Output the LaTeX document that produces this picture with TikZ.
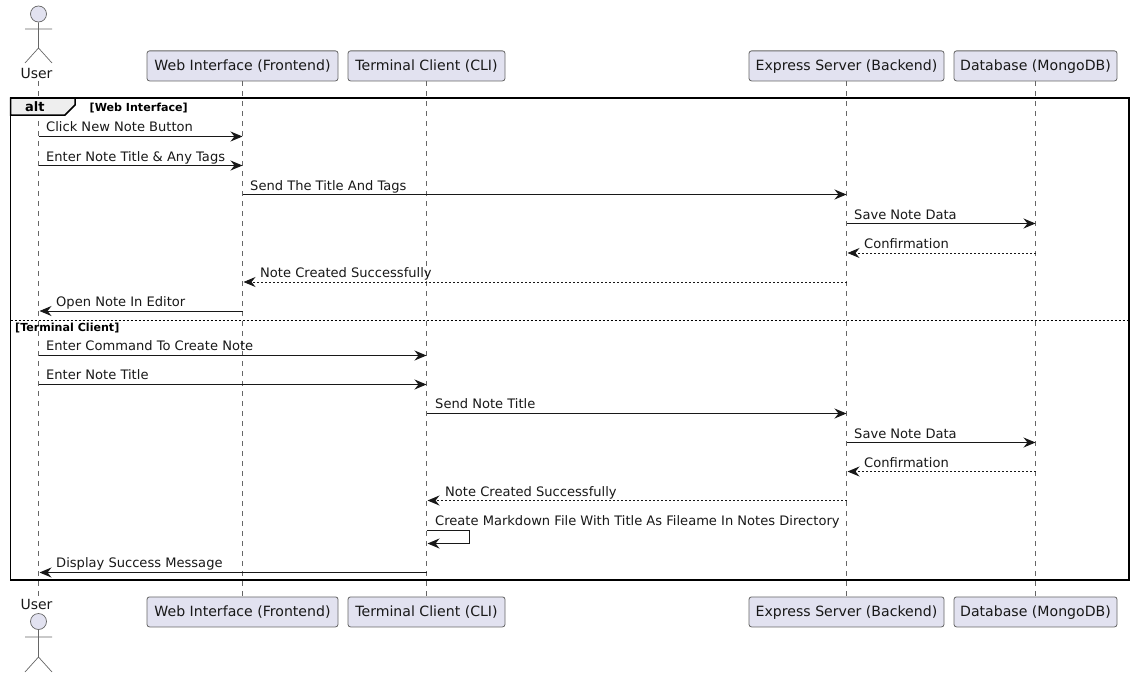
\documentclass[tikz,border=0pt]{standalone}
\usepackage{fontspec}
\setmainfont{DejaVu Sans}
\usetikzlibrary{arrows.meta}
\definecolor{boxfill}{HTML}{E2E2F0}
\definecolor{ink}{HTML}{181818}
\definecolor{soft}{HTML}{666666}
\definecolor{tabfill}{HTML}{EEEEEE}
\tikzset{
  participant/.style={draw=soft,line width=0.8pt,fill=boxfill,rounded corners=2.5pt,font=\fontsize{14.1}{16}\selectfont,text=ink,minimum height=30pt,inner sep=0pt,anchor=north,text height=12pt,text depth=2pt},
  lifeline/.style={draw=soft,line width=0.7pt,dash pattern=on 5pt off 5pt},
  actorline/.style={draw=soft,line width=0.7pt},
  msgtip/.style={-{Stealth[length=12pt,width=10pt,inset=4pt]}},
  msg/.style={msgtip,draw=ink,line width=1pt},
  msgleft/.style={msg,shorten >=1pt},
  reply/.style={msgleft,dash pattern=on 2pt off 2pt},
  msglabel/.style={font=\fontsize{13.07}{15}\selectfont,text=ink,anchor=base west,inner sep=0pt},
  actorlabel/.style={font=\fontsize{14}{16}\selectfont,text=ink,anchor=base,inner sep=0pt},
  grouplabel/.style={font=\fontsize{11.1}{13}\selectfont\bfseries,text=black,anchor=base west,inner sep=0pt},
}
\begin{document}
\begin{tikzpicture}[x=1pt,y=-1pt]
\useasboundingbox (0,0) rectangle (1134,677);
% top participants
\node[participant,minimum width=191pt] (webT) at (242.5,50.5) {Web Interface (Frontend)};
\node[participant,minimum width=157pt] (cliT) at (426.5,50.5) {Terminal Client (CLI)};
\node[participant,minimum width=195pt] (srvT) at (846.5,50.5) {Express Server (Backend)};
\node[participant,minimum width=163pt] (dbT) at (1035.5,50.5) {Database (MongoDB)};
% bottom participants
\node[participant,minimum width=191pt] (webB) at (242.5,596.5) {Web Interface (Frontend)};
\node[participant,minimum width=157pt] (cliB) at (426.5,596.5) {Terminal Client (CLI)};
\node[participant,minimum width=195pt] (srvB) at (846.5,596.5) {Express Server (Backend)};
\node[participant,minimum width=163pt] (dbB) at (1035.5,596.5) {Database (MongoDB)};
% actors
\coordinate (userT) at (38.5,81);
\coordinate (userB) at (38.5,596);
\node[actorlabel] (userTL) at (36.5,78) {User};
\node[actorlabel] (userBL) at (36.5,609) {User};
\node[actorline,circle,fill=boxfill,minimum size=16pt,inner sep=0pt] (headT) at (38.5,14) {};
\draw[actorline] (headT.south) -- (38.5,48) (25,29) -- (52,29) (25,63) -- (38.5,48) -- (52,63);
\node[actorline,circle,fill=boxfill,minimum size=16pt,inner sep=0pt] (headB) at (38.5,621.5) {};
\draw[actorline] (headB.south) -- (38.5,657) (25,637) -- (52,637) (25,672) -- (38.5,657) -- (52,672);
% lifelines
\draw[lifeline] (userT) -- (userB);
\draw[lifeline] (webT.south) -- (webB.north);
\draw[lifeline] (cliT.south) -- (cliB.north);
\draw[lifeline] (srvT.south) -- (srvB.north);
\draw[lifeline] (dbT.south) -- (dbB.north);
% frame
\draw[black,line width=1.5pt] (10.5,98) rectangle (1129,580);
\draw[black,line width=1.5pt,fill=tabfill] (10.5,98) -- (75,98) -- (75,105) -- (65,115) -- (10.5,115) -- cycle;
\node[grouplabel,font=\fontsize{13}{15}\selectfont\bfseries] (altL) at (25,111) {alt};
\node[grouplabel] (g1) at (89.5,111) {[Web Interface]};
\draw[black,line width=1pt,dash pattern=on 2pt off 2pt] (10.5,320.5) -- (1129,320.5);
\node[grouplabel] (g2) at (15,331) {[Terminal Client]};
% messages
\draw[msg] (userT |- 0,136.5) -- (webT.south |- 0,136.5);
\node[msglabel] (m1) at (46,131) {Click New Note Button};
\draw[msg] (userT |- 0,165.5) -- (webT.south |- 0,165.5);
\node[msglabel] (m2) at (46,161) {Enter Note Title \& Any Tags};
\draw[msg] (webT.south |- 0,194.5) -- (srvT.south |- 0,194.5);
\node[msglabel] (m3) at (250,190) {Send The Title And Tags};
\draw[msg] (srvT.south |- 0,223.5) -- (dbT.south |- 0,223.5);
\node[msglabel] (m4) at (854,219) {Save Note Data};
\draw[reply] (dbT.south |- 0,253) -- (srvT.south |- 0,253);
\node[msglabel] (m5) at (864,248) {Confirmation};
\draw[reply] (srvT.south |- 0,282) -- (webT.south |- 0,282);
\node[msglabel] (m6) at (260,277) {Note Created Successfully};
\draw[msgleft] (webT.south |- 0,311) -- (userT |- 0,311);
\node[msglabel] (m7) at (56,306) {Open Note In Editor};
\draw[msg] (userT |- 0,355.5) -- (cliT.south |- 0,355.5);
\node[msglabel] (m8) at (46,350) {Enter Command To Create Note};
\draw[msg] (userT |- 0,384.5) -- (cliT.south |- 0,384.5);
\node[msglabel] (m9) at (46,379) {Enter Note Title};
\draw[msg] (cliT.south |- 0,413.5) -- (srvT.south |- 0,413.5);
\node[msglabel] (m10) at (435,408) {Send Note Title};
\draw[msg] (srvT.south |- 0,442.5) -- (dbT.south |- 0,442.5);
\node[msglabel] (m11) at (854,438) {Save Note Data};
\draw[reply] (dbT.south |- 0,471.5) -- (srvT.south |- 0,471.5);
\node[msglabel] (m12) at (864,467) {Confirmation};
\draw[reply] (srvT.south |- 0,500.5) -- (cliT.south |- 0,500.5);
\node[msglabel] (m13) at (445,496) {Note Created Successfully};
\coordinate (selfA) at (469.5,530.5);
\coordinate (selfB) at (469.5,543.5);
\draw[msgleft] (cliT.south |- selfA) -- (selfA) -- (selfB) -- (cliT.south |- selfB);
\node[msglabel] (m14) at (435,525) {Create Markdown File With Title As Fileame In Notes Directory};
\draw[msgleft] (cliT.south |- 0,572.5) -- (userT |- 0,572.5);
\node[msglabel] (m15) at (56,567) {Display Success Message};
\end{tikzpicture}
\end{document}
